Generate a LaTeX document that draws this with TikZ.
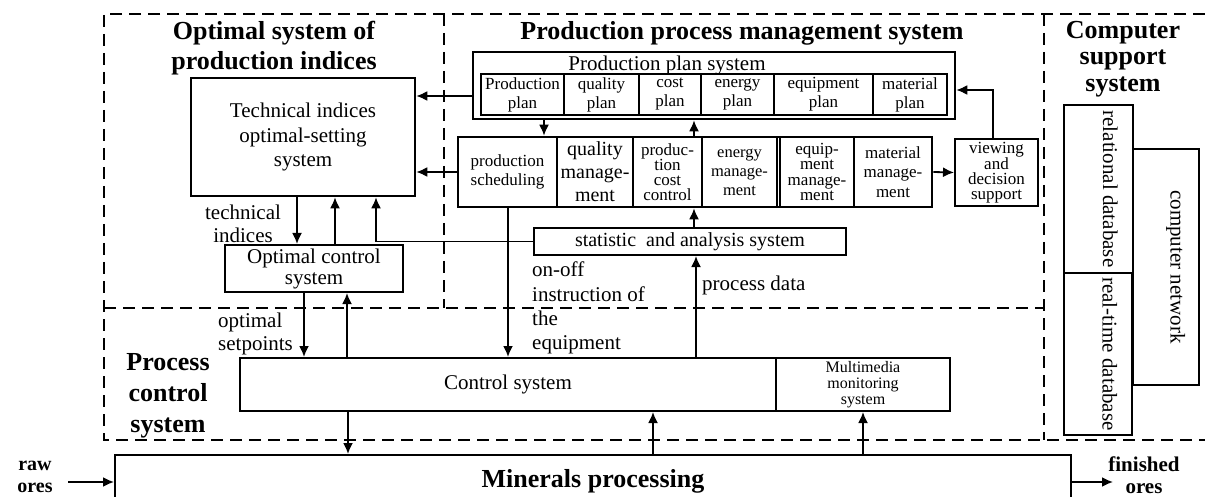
\documentclass[tikz,border=0pt]{standalone}
\usepackage{fontspec}
\setmainfont{Liberation Serif}
\usetikzlibrary{arrows.meta}
\def\fnt#1#2{\fontsize{#1}{#2}\selectfont}

\begin{document}
\begin{tikzpicture}[>={Latex[length=11pt,width=10pt]},x=1pt,y=-1pt,
  blk/.style={draw,inner sep=0pt,align=center,line width=2pt,font=\fnt{21}{24}},
  thk/.style={blk,line width=2.6pt},
  cell/.style={draw,inner sep=0pt,align=center,line width=1.3pt,font=\fnt{17}{19}},
  lbl/.style={inner sep=0pt,align=left,font=\fnt{21}{24.3}},
  ttl/.style={inner sep=0pt,align=center,font=\bfseries\fnt{26}{30}},
  dbase/.style={draw,line width=2pt,inner sep=0pt,rotate=-90,text height=15pt,text depth=24pt,font=\fnt{21}{24}},
  arr/.style={->,line width=1.8pt},
  dsh/.style={line width=2.2pt,dash pattern=on 12pt off 7pt}]

\useasboundingbox (0,0) rectangle (1205,497);

\def\blk#1#2#3#4#5#6#7{
	\node[#6,minimum width={(#4-#2)*1pt},minimum height={(#5-#3)*1pt}]
		(#1) at ({(#2+#4)/2},{(#3+#5)/2}) {#7};
}

% Bereiche
\draw[dsh] (1205,14) -- (104,14) -- (104,440) -- (1205,440);
\draw[dsh] (444,14) -- (444,308);
\draw[dsh] (104,308) -- (1044,308);
\draw[dsh] (1044,14) -- (1044,440);

\node[ttl] (ttlopt) at (274,48) {Optimal system of\\production indices};
\node[ttl] (ttlppm) at (742,33) {Production process management system};
\node[ttl,font=\bfseries\fnt{26}{26.5}] (ttlcs) at (1123,59) {Computer\\support\\system};
\node[ttl,font=\bfseries\fnt{26}{31}] (ttlpc) at (168,396) {Process\\control\\system};

\blk{tech}{191}{78}{415}{196}{thk,font=\fnt{21}{24.5}}{Technical indices\\optimal-setting\\system}
\blk{opt}{225}{245}{403}{292}{blk,font=\fnt{21}{21}}{Optimal control\\system}

% Planung
\blk{plan}{473}{52}{955}{119}{thk}{}
\node[inner sep=0pt,font=\fnt{21}{24}] (plantl) at (667,65) {Production plan system};
\blk{pprod}{481}{74}{564}{115}{cell}{Production\\plan}
\blk{pqual}{564}{74}{639}{115}{cell}{quality\\plan}
\blk{pcost}{639}{74}{701}{115}{cell}{cost\\plan}
\blk{peng}{701}{74}{774}{115}{cell}{energy\\plan}
\blk{pequ}{774}{74}{873}{115}{cell}{equipment\\plan}
\blk{pmat}{873}{74}{947}{115}{cell}{material\\plan}

% Management
\blk{mgmt}{458}{137}{932}{207}{thk}{}
\blk{mprod}{458}{137}{557}{207}{cell}{production\\scheduling}
\blk{mqual}{557}{137}{633}{207}{cell,font=\fnt{20}{23}}{quality\\manage-\\ment}
\blk{mcost}{633}{137}{702}{207}{cell,font=\fnt{17}{15}}{produc-\\tion\\cost\\control}
\blk{meng}{702}{137}{777}{207}{cell,font=\fnt{16.5}{19}}{energy\\manage-\\ment}
\blk{mequ}{780}{137}{854}{207}{cell,font=\fnt{17}{15.5}}{equip-\\ment\\manage-\\ment}
\blk{mmat}{854}{137}{932}{207}{cell,font=\fnt{17}{19.5}}{material\\manage-\\ment}
\blk{view}{955}{139}{1038}{206}{blk,font=\fnt{17}{15}}{viewing\\and\\decision\\support}

\blk{stat}{534}{228}{846}{255}{blk,font=\fnt{20}{24}}{statistic\ \ and analysis system}

% Prozessebene
\blk{ctrl}{240}{358}{776}{411}{blk}{Control system}
\blk{mm}{776}{358}{950}{411}{blk,font=\fnt{16}{16}}{Multimedia\\monitoring\\system}
\blk{mp}{115}{455}{1071}{507}{blk,font=\bfseries\fnt{26}{30}}{Minerals processing}
\node[ttl,font=\bfseries\fnt{20}{22}] (raw) at (35,477) {raw\\ores};
\node[ttl,font=\bfseries\fnt{21}{22}] (fin) at (1144,475) {finished\\ores};
\coordinate (rawin) at (68,482);
\coordinate (finout) at (1113,482);

% Rechner
\node[dbase,minimum width=168pt,minimum height=69pt] (reldb) at (1098.5,189) {relational database};
\node[dbase,minimum width=162pt,minimum height=68pt] (rtdb) at (1098,354) {real-time database};
\node[dbase,minimum width=236pt,minimum height=66pt] (net) at (1166,267) {computer network};

% Beschriftungen
\node[lbl,align=center,font=\fnt{21}{23}] (lbltech) at (243,224) {technical\\indices};
\node[lbl,anchor=west,font=\fnt{21}{23}] (lblopt) at (218,334) {optimal\\setpoints};
\node[lbl,anchor=west] (lblonoff) at (532,308) {on-off\\instruction of\\the\\equipment};
\node[lbl,anchor=west] (lblproc) at (702,285) {process data};

% Pfeile
\draw[arr] (plan.west |- 0,96) -- (tech.east |- 0,96);
\draw[arr] (mgmt.west) -- (tech.east |- mgmt.west);
\draw[arr] (tech.south -| 297,0) -- (opt.north -| 297,0);
\draw[arr] (opt.north -| 335,0) -- (tech.south -| 335,0);
\draw[arr] (stat.west) -| (tech.south -| 376,0);
\draw[arr] (opt.south -| 304,0) -- (ctrl.north -| 304,0);
\draw[arr] (ctrl.north -| 347,0) -- (opt.south -| 347,0);
\draw[arr] (plan.south -| 544,0) -- (mgmt.north -| 544,0);
\draw[arr] (mgmt.north -| 694,0) -- (plan.south -| 694,0);
\draw[arr] (stat.north -| 694,0) -- (mgmt.south -| 694,0);
\draw[arr] (mgmt.south -| 508,0) -- (ctrl.north -| 508,0);
\draw[arr] (ctrl.north -| 696,0) -- (stat.south -| 696,0);
\draw[arr] (mgmt.east) -- (view.west);
\draw[arr] (view.north -| 993,0) |- (plan.east |- 0,90);
\draw[arr] (ctrl.south -| 348,0) -- (mp.north -| 348,0);
\draw[arr] (mp.north -| 653,0) -- (ctrl.south -| 653,0);
\draw[arr] (mp.north -| mm.south) -- (mm.south);
\draw[arr] (rawin) -- (mp.west |- rawin);
\draw[arr] (mp.east |- finout) -- (finout);

\end{tikzpicture}
\end{document}
